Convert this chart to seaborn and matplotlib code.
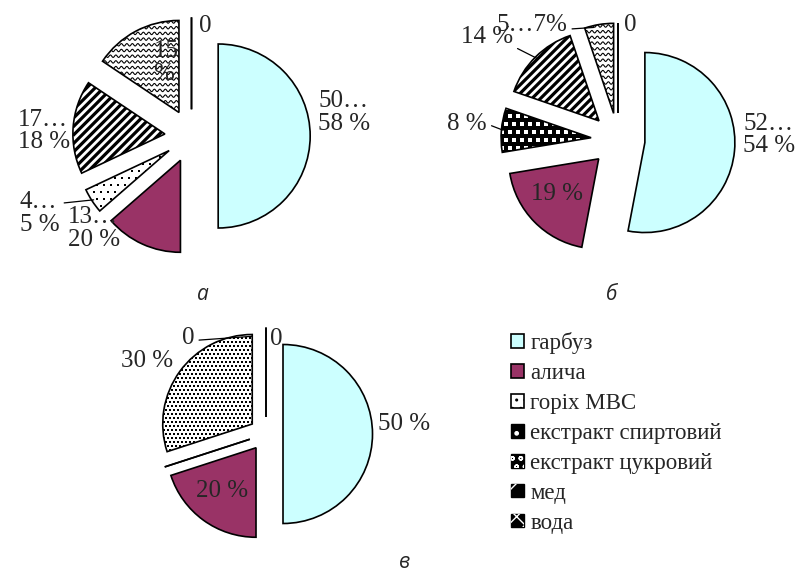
import numpy as np
import matplotlib
matplotlib.use('Agg')
import matplotlib.pyplot as plt
import seaborn as sns
from matplotlib.patches import Patch
from matplotlib.collections import LineCollection
from matplotlib.legend_handler import HandlerTuple

sns.set_theme(style='white')
plt.rcParams['font.family'] = ['Liberation Serif', 'DejaVu Serif']

# дані
categories = ['гарбуз', 'алича', 'горіх МВС', 'екстракт спиртовий',
              'екстракт цукровий', 'мед', 'вода']

# а
pie_a_cats = ['гарбуз', 'алича', 'горіх МВС', 'мед', 'вода',
              'екстракт спиртовий', 'екстракт цукровий']
pie_a_vals = [50, 13.6, 4.4, 16.4, 15.6, 0, 0]
pie_a_labels = ['50…\n58 %', '13…\n20 %', '4…\n5 %', '17…\n18 %', '15\n%', '0', '']

# б
pie_b_cats = ['гарбуз', 'алича', 'екстракт спиртовий', 'мед', 'вода',
              'горіх МВС', 'екстракт цукровий']
pie_b_vals = [53, 19.4, 7.9, 14.5, 5.2, 0, 0]
pie_b_labels = ['52…\n54 %', '19 %', '8 %', '14 %', '5…7%', '0', '']

# в
pie_c_cats = categories
pie_c_vals = [50, 20, 0, 0, 30, 0, 0]
pie_c_labels = ['50 %', '20 %', '', '', '30 %', '0', '0']

# стилі
fill = {'гарбуз': '#CCFFFF', 'алича': '#993366', 'горіх МВС': 'white',
        'екстракт спиртовий': 'black', 'екстракт цукровий': 'white',
        'мед': 'white', 'вода': 'white'}

FW, FH = 796, 574
fig = plt.figure(figsize=(FW / 100, FH / 100), dpi=100)


def pie_axes(cx, cy, r, hw, hh):
    ax = fig.add_axes([(cx - hw) / FW, (FH - cy - hh) / FH, 2 * hw / FW, 2 * hh / FH])
    return ax


def add_dots(ax, w, r, step, size, color, stagger=True):
    ext = w.get_path().get_extents()
    s = step / r
    xs = np.arange(np.floor(ext.x0 / s) * s, ext.x1 + s, s)
    ys = np.arange(np.floor(ext.y0 / s) * s, ext.y1 + s, s)
    X, Y = np.meshgrid(xs, ys)
    if stagger:
        X = X + (np.round(Y / s).astype(int) % 2) * s / 2
    sc = ax.scatter(X.ravel(), Y.ravel(), s=(size * 0.72) ** 2, marker='s',
                    c=color, linewidths=0, zorder=2)
    sc.set_clip_path(w)


def add_stripes(ax, w, r, step, lw):
    ext = w.get_path().get_extents()
    s = step / r
    segs = []
    for c in np.arange(np.floor((ext.y0 - ext.x1) / s) * s, ext.y1 - ext.x0 + s, s):
        segs.append([(ext.x0, ext.x0 + c), (ext.x1, ext.x1 + c)])
    lc = LineCollection(segs, colors='black', linewidths=lw * 0.72, zorder=2)
    ax.add_collection(lc)
    lc.set_clip_path(w)


def add_waves(ax, w, r, step, amp, period, lw):
    ext = w.get_path().get_extents()
    s = step / r
    xx = np.linspace(ext.x0, ext.x1, 400)
    segs = []
    for y0 in np.arange(np.floor(ext.y0 / s) * s, ext.y1 + s, s):
        yy = y0 + amp / r * np.sin(2 * np.pi * xx * r / period)
        segs.append(np.column_stack([xx, yy]))
    lc = LineCollection(segs, colors='black', linewidths=lw * 0.72, zorder=2)
    ax.add_collection(lc)
    lc.set_clip_path(w)


def texture(ax, w, r, cat):
    if cat == 'горіх МВС':
        add_dots(ax, w, r, 7, 1.8, 'black')
    elif cat == 'екстракт спиртовий':
        add_dots(ax, w, r, 8, 3.4, 'white')
    elif cat == 'екстракт цукровий':
        add_dots(ax, w, r, 4, 2.6, 'black')
    elif cat == 'мед':
        add_stripes(ax, w, r, 8.5, 3.2)
    elif cat == 'вода':
        add_waves(ax, w, r, 5.7, 1.2, 5.5, 1.1)


def draw_pie(cx, cy, r, hw, hh, cats, vals, labels, explode, label_pos, leaders):
    ax = pie_axes(cx, cy, r, hw, hh)
    n = len(vals)
    wedges, _ = ax.pie(vals, startangle=90, counterclock=False, radius=1,
                       explode=[explode] * n, colors=[fill[c] for c in cats],
                       wedgeprops=dict(linewidth=0, zorder=1))
    for w, c, v in zip(wedges, cats, vals):
        if v > 0:
            texture(ax, w, r, c)
    outl, _ = ax.pie(vals, startangle=90, counterclock=False, radius=1,
                     explode=[explode] * n, colors=['none'] * n,
                     wedgeprops=dict(edgecolor='black', linewidth=1.2, zorder=3))
    for i, lab in enumerate(labels):
        if not lab:
            continue
        x, y, ha = label_pos[i]
        kw = dict(ha=ha, va='center', fontsize=18, zorder=5,
                  multialignment='left', linespacing=1.05)
        if i in leaders:
            wi, frac, relpos = leaders[i]
            w = outl[wi]
            ang = np.deg2rad(w.theta1 + frac * (w.theta2 - w.theta1))
            pt = (w.center[0] + 0.98 * w.r * np.cos(ang), w.center[1] + 0.98 * w.r * np.sin(ang))
            ax.annotate(lab, xy=pt, xytext=(x, y), textcoords='data',
                        arrowprops=dict(arrowstyle='-', lw=0.9, color='black',
                                        shrinkA=1, shrinkB=0, relpos=relpos), **kw)
        else:
            ax.text(x, y, lab, **kw)
    ax.set_aspect('auto')
    ax.set_xlim(-hw / r, hw / r)
    ax.set_ylim(-hh / r, hh / r)
    ax.axis('off')
    return ax


# а
draw_pie(191.5, 136, 92, 190, 136, pie_a_cats, pie_a_vals, pie_a_labels, 0.29,
         [(1.375, 0.26, 'left'), (-1.34, -1.01, 'left'), (-1.65, -0.84, 'center'),
          (-1.886, 0.054, 'left'), (-0.277, 0.80, 'center'), (0.147, 1.2, 'center'), None],
         {2: (2, 0.5, (1, 0.72))})

# б
draw_pie(618, 140, 90, 175, 140, pie_b_cats, pie_b_vals, pie_b_labels, 0.30,
         [(1.39, 0.056, 'left'), (-0.68, -0.6, 'center'), (-1.456, 0.178, 'right'),
          (-1.456, 1.144, 'center'), (-0.956, 1.28, 'center'), (0.133, 1.28, 'center'), None],
         {2: (2, 0.5, (1, 0.5)), 3: (3, 0.5, (0.9, 0.2)), 4: (4, 0.7, (1, 0.3))})

# в
draw_pie(266, 434, 89.5, 160, 125, pie_c_cats, pie_c_vals, pie_c_labels, 0.19,
         [(1.25, 0.11, 'left'), (-0.49, -0.64, 'center'), None, None,
          (-1.33, 0.82, 'center'), (-0.87, 1.07, 'center'), (0.11, 1.06, 'center')],
         {5: (4, 0.0, (1, 0.4))})

# підписи
for s, x, y in [('а', 203, 294), ('б', 612, 294), ('в', 405, 563)]:
    fig.text(x / FW, 1 - y / FH, s, ha='center', va='center', fontsize=15,
             style='italic', family=['Open Sans', 'DejaVu Sans'])

# легенда
def black_with(hatch):
    return (Patch(facecolor='black', edgecolor='black', linewidth=1),
            Patch(facecolor='none', edgecolor='white', hatch=hatch, linewidth=0))

handles = [Patch(facecolor=fill['гарбуз'], edgecolor='black', linewidth=1.2),
           Patch(facecolor=fill['алича'], edgecolor='black', linewidth=1.2),
           Patch(facecolor='white', edgecolor='black', hatch='..', linewidth=1.2),
           black_with('.'),
           black_with('oo'),
           black_with('/'),
           black_with('xx')]
fig.legend(handles, categories, loc='upper left',
           bbox_to_anchor=(511 / FW, 1 - 332 / FH), frameon=False, fontsize=16.5,
           handlelength=0.55, handleheight=0.55, handletextpad=0.3,
           labelspacing=0.39, borderpad=0, borderaxespad=0,
           handler_map={tuple: HandlerTuple(ndivide=1, pad=0)})

fig.savefig('out.png', dpi=100, facecolor='white')
